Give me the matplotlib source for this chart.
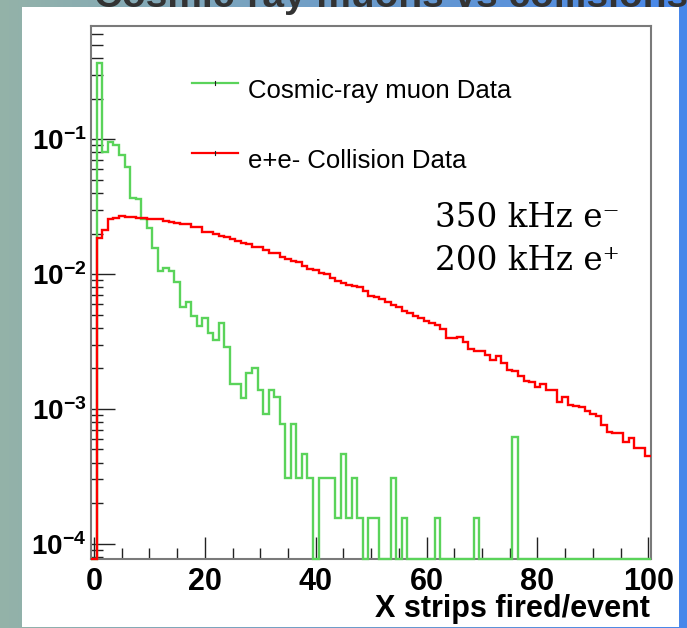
import numpy as np
import matplotlib
matplotlib.use('Agg')
import matplotlib.pyplot as plt
from matplotlib.patches import Rectangle
from matplotlib.lines import Line2D
from matplotlib.ticker import LogLocator, NullFormatter, MultipleLocator

# ---------------- data (fraction of events per bin, bins centred on 0..100) -------------
cosmic_frac = [
    0, 0.370, 0.0805, 0.0955, 0.0903, 0.0761, 0.0626, 0.0369, 0.0362, 0.0255,
    0.0221, 0.0157, 0.01054, 0.0111, 0.01063, 0.00881, 0.00567, 0.00624, 0.00491, 0.00412,
    0.00476, 0.00367, 0.00324, 0.00432, 0.00290, 0.00153, 0.00153, 0.00121, 0.00185, 0.00200,
    0.00139, 0.000912, 0.00138, 0.00123, 0.000773, 0.000307, 0.000773, 0.000307, 0.000460, 0.000307,
    0, 0.000307, 0.000307, 0.000307, 0.000154, 0.000460, 0.000154, 0.000307, 0.000154, 0,
    0.000154, 0.000154, 0, 0, 0.000307, 0, 0.000154, 0, 0, 0,
    0, 0, 0.000154, 0, 0, 0, 0, 0, 0, 0.000154,
    0, 0, 0, 0, 0, 0, 0.000614, 0, 0, 0,
    0, 0, 0, 0, 0, 0, 0, 0, 0, 0,
    0, 0, 0, 0, 0, 0, 0, 0, 0, 0, 0,
]
collision_frac = [
    0, 0.01853, 0.02135, 0.02572, 0.02621, 0.02684, 0.02675, 0.02652, 0.02621, 0.02595,
    0.02576, 0.02576, 0.02563, 0.02464, 0.02456, 0.02393, 0.02353, 0.02353, 0.02247, 0.02224,
    0.02041, 0.02041, 0.01973, 0.01926, 0.01875, 0.01822, 0.01760, 0.01710, 0.01681, 0.01597,
    0.01597, 0.01510, 0.01442, 0.01442, 0.01346, 0.01301, 0.01257, 0.01223, 0.01154, 0.01085,
    0.01072, 0.01019, 0.01002, 0.00936, 0.00889, 0.00855, 0.00830, 0.00816, 0.00798, 0.00749,
    0.00688, 0.00680, 0.00650, 0.00624, 0.00590, 0.00570, 0.00532, 0.00519, 0.00489, 0.00476,
    0.00449, 0.00434, 0.00419, 0.00391, 0.00337, 0.00333, 0.00341, 0.00315, 0.00276, 0.00269,
    0.00267, 0.00251, 0.00232, 0.00247, 0.00219, 0.00194, 0.00191, 0.00176, 0.00162, 0.00158,
    0.00146, 0.00154, 0.00137, 0.00137, 0.00113, 0.00122, 0.00106, 0.00105, 0.00103, 0.000965,
    0.000917, 0.000886, 0.000760, 0.000678, 0.000668, 0.000663, 0.000573, 0.000608, 0.000517, 0.000517,
    0.000447,
]
bin_edges = np.arange(-0.5, 101.0, 1.0)

x_ticks = [0, 20, 40, 60, 80, 100]
x_ticklabels = ['0', '20', '40', '60', '80', '100']
y_ticks = [1e-4, 1e-3, 1e-2, 1e-1]
y_ticklabels = [r'$\mathbf{10^{-4}}$', r'$\mathbf{10^{-3}}$', r'$\mathbf{10^{-2}}$', r'$\mathbf{10^{-1}}$']

legend_labels = ['Cosmic-ray muon Data', 'e+e- Collision Data']
rate_lines = ['350 kHz e\u207b', '200 kHz e\u207a']
x_title = 'X strips fired/event'
slide_title = 'Cosmic-ray muons vs collisions'

YMIN, YMAX = 7.66e-5, 0.693
GREEN = '#5ad35a'
RED = '#ff0000'

# ---------------- figure -------------
plt.rcParams['mathtext.fontset'] = 'custom'
plt.rcParams['mathtext.bf'] = 'Liberation Sans:bold'
plt.rcParams['mathtext.rm'] = 'Liberation Sans'
plt.rcParams['mathtext.it'] = 'Liberation Sans:italic'

W, H = 687, 628
fig = plt.figure(figsize=(W / 100, H / 100), dpi=100)

# slide background (pixel coordinates)
bg = fig.add_axes([0, 0, 1, 1], zorder=-10)
c0 = np.array([0.58, 0.70, 0.66])
c1 = np.array([0.28, 0.53, 0.92])
t = np.linspace(0, 1, 256)[:, None]
grad = (c0 * (1 - t) + c1 * t)[None, :, :]
bg.imshow(grad, extent=[0, W, H, 0], aspect='auto', interpolation='bilinear')
bg.add_patch(Rectangle((22, 7), 657, 620, facecolor='white', edgecolor='none', zorder=2))
bg.text(94, 7, slide_title, fontsize=28, fontweight='bold', family='Liberation Sans',
        color='#333333', va='baseline', ha='left', zorder=3)
bg.set_xlim(0, W)
bg.set_ylim(H, 0)
bg.set_axis_off()

# legend (drawn manually like ROOT TLegend)
leg_rows = [(83, 98.3, GREEN), (153, 168.0, RED)]
for (ly, ty, col), lab in zip(leg_rows, legend_labels):
    bg.add_line(Line2D([192, 238], [ly, ly], color=col, lw=1.6, zorder=4))
    bg.add_line(Line2D([215, 215], [ly - 2, ly + 2], color='#222222', lw=0.8, zorder=5))
    bg.text(248, ty, lab, fontsize=18.5, family='Liberation Sans', color='black',
            va='baseline', ha='left', zorder=4)

# beam-rate annotation
for yb, txt in zip([226.7, 270.0], rate_lines):
    bg.text(435, yb, txt, fontsize=23.5, family='DejaVu Serif', color='black',
            va='baseline', ha='left', zorder=4)

# ---------------- main axes -------------
ax = fig.add_axes([91.3 / W, 1 - 559.3 / H, (651 - 91.3) / W, (559.3 - 26) / H])
ax.patch.set_visible(False)
ax.set_yscale('log')
ax.set_xlim(-0.5, 100.5)
ax.set_ylim(YMIN, YMAX)

g = np.array(cosmic_frac, dtype=float)
r = np.array(collision_frac, dtype=float)
ax.stairs(np.where(g > 0, g, YMIN), bin_edges, baseline=None, color=GREEN, lw=1.7,
          clip_on=False, zorder=3)
ax.stairs(np.where(r > 0, r, YMIN), bin_edges, baseline=None, color=RED, lw=1.7,
          clip_on=False, zorder=4)

for sp in ax.spines.values():
    sp.set_color('#7a7a7a')
    sp.set_linewidth(1.5)
    sp.set_zorder(2)

ax.set_xticks(x_ticks)
ax.set_xticklabels(x_ticklabels, fontsize=22, fontweight='bold', family='Liberation Sans')
ax.xaxis.set_minor_locator(MultipleLocator(5))
ax.set_yticks(y_ticks)
ax.set_yticklabels(y_ticklabels, fontsize=20)
ax.yaxis.set_minor_locator(LogLocator(base=10, subs=np.arange(2, 10), numticks=20))
ax.yaxis.set_minor_formatter(NullFormatter())

ax.tick_params(which='both', direction='in', top=False, right=False, color='#222222', width=1)
ax.tick_params(axis='x', which='major', length=16, pad=5.5)
ax.tick_params(axis='x', which='minor', length=8)
ax.tick_params(axis='y', which='major', length=17, pad=3.5)
ax.tick_params(axis='y', which='minor', length=8.5)

ax.set_xlabel(x_title, fontsize=22, fontweight='bold', family='Liberation Sans',
              ha='right', va='baseline')
ax.xaxis.set_label_coords(0.998, -(617 - 559.3) / (559.3 - 26))

fig.savefig('out.png', dpi=100)
